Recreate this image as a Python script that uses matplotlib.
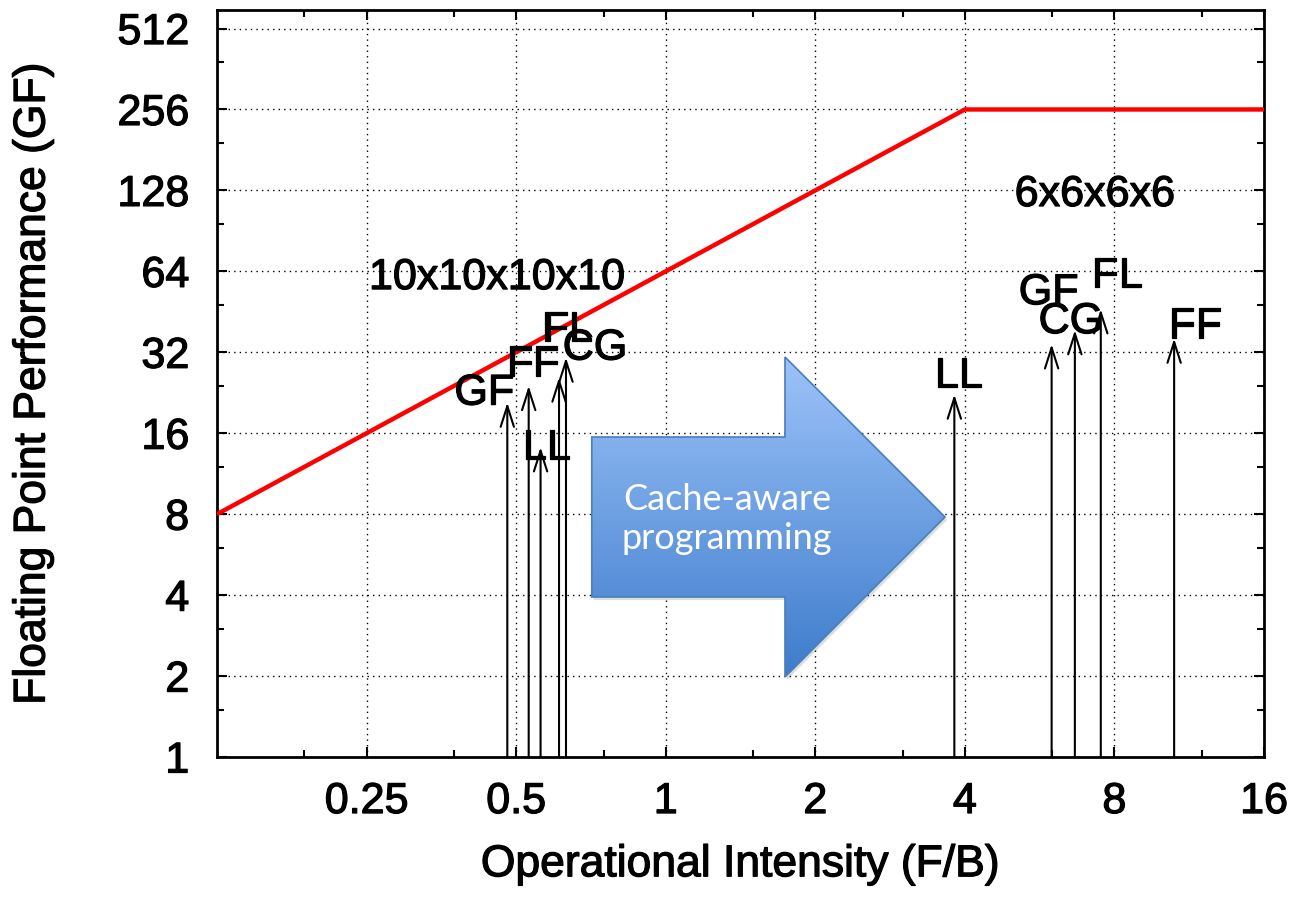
import numpy as np
import matplotlib
matplotlib.use('Agg')
import matplotlib.pyplot as plt
from matplotlib.patches import Polygon
from matplotlib.ticker import FixedLocator, NullFormatter
import matplotlib.transforms as mtransforms
import matplotlib.patheffects as pe

plt.rcParams['font.family'] = ['Liberation Sans', 'DejaVu Sans']

# roofline: techo de 256 GF, ancho de banda 64 GB/s
roof_x = [0.125, 4, 16]
roof_y = [8, 256, 256]

# kernels 10x10x10x10 (intensidad, rendimiento)
small_names = ['GF', 'FF', 'LL', 'FL', 'CG']
small_oi = [0.48, 0.53, 0.56, 0.61, 0.63]
small_gf = [20.8, 24.0, 14.2, 25.8, 30.6]

# kernels 6x6x6x6
big_names = ['LL', 'GF', 'CG', 'FL', 'FF']
big_oi = [3.81, 5.98, 6.66, 7.51, 10.55]
big_gf = [22.3, 34.3, 38.7, 46.3, 36.0]

xticks = [0.25, 0.5, 1, 2, 4, 8, 16]
xtick_labels = ['0.25', '0.5', '1', '2', '4', '8', '16']
yticks = [1, 2, 4, 8, 16, 32, 64, 128, 256, 512]

# desplazamientos de las etiquetas (pixeles) respecto a la punta de la flecha
small_off = [(-23, -2), (4, 10), (6, -12), (8, 36), (29, -2)]
big_off = [(4, 7), (-3, 40), (-4, -3), (16, 22), (21, 1)]

# trazo extra para que el texto se vea un poco mas grueso
grueso = [pe.withStroke(linewidth=0.9, foreground='black')]

fig = plt.figure(figsize=(13.07, 9.01), dpi=100)
ax = fig.add_axes([0.166, 0.1598, 0.8011, 0.8291])
ax.set_xscale('log', base=2)
ax.set_yscale('log', base=2)

# flecha azul "Cache-aware programming"
verts = [(0.358, 0.4284), (0.5425, 0.4284), (0.5425, 0.5355), (0.6953, 0.3213),
         (0.5425, 0.1071), (0.5425, 0.2142), (0.358, 0.2142)]
shadow = Polygon(verts, closed=True, facecolor='#555555', edgecolor='none', alpha=0.2,
                 transform=ax.transAxes + mtransforms.ScaledTranslation(2/100, -3/100, fig.dpi_scale_trans),
                 zorder=1)
ax.add_patch(shadow)
poly = Polygon(verts, closed=True, facecolor='none', edgecolor='#4a7ebb', lw=1.2,
               transform=ax.transAxes, zorder=3)
ax.add_patch(poly)
grad = np.linspace(0, 1, 256).reshape(-1, 1)
cmap = matplotlib.colors.LinearSegmentedColormap.from_list('az', ['#3d7ccb', '#9dc3f9'])
im = ax.imshow(grad, cmap=cmap, origin='lower', aspect='auto',
               extent=[0.358, 0.6953, 0.1071, 0.5355], transform=ax.transAxes, zorder=2)
im.set_clip_path(poly)
ax.text(0.487, 0.3186, 'Cache-aware\nprogramming', transform=ax.transAxes,
        ha='center', va='center', color='white', fontsize=26, family=['Lato', 'DejaVu Sans'],
        linespacing=1.2, zorder=4)

# roofline
ax.plot(roof_x, roof_y, color='#ff0000', lw=3.2, zorder=5, solid_capstyle='butt')

arrow_kw = dict(arrowstyle='->,head_length=0.75,head_width=0.24', lw=1.5, color='black',
                mutation_scale=20, shrinkA=0, shrinkB=0)
for names, oi, gf, offs in [(small_names, small_oi, small_gf, small_off),
                            (big_names, big_oi, big_gf, big_off)]:
    for n, x, y, (dx, dy) in zip(names, oi, gf, offs):
        ax.annotate('', xy=(x, y), xytext=(x, 1), arrowprops=arrow_kw, zorder=6)
        ax.annotate(n, xy=(x, y), xytext=(dx, dy), textcoords='offset pixels',
                    ha='center', va='baseline', fontsize=31, zorder=7, path_effects=grueso)

ax.text(0.457, 55, '10x10x10x10', ha='center', va='baseline', fontsize=31, path_effects=grueso)
ax.text(7.3, 112, '6x6x6x6', ha='center', va='baseline', fontsize=31, path_effects=grueso)

ax.set_xlim(0.125, 16)
ax.set_ylim(1, 600)
ax.set_xticks(xticks)
ax.set_xticklabels(xtick_labels)
ax.set_yticks(yticks)
ax.set_yticklabels([str(v) for v in yticks])
ax.xaxis.set_minor_locator(FixedLocator([1.5 * v for v in [0.125] + xticks[:-1]]))
ax.yaxis.set_minor_locator(FixedLocator([1.5 * v for v in yticks]))
ax.xaxis.set_minor_formatter(NullFormatter())
ax.yaxis.set_minor_formatter(NullFormatter())
ax.tick_params(which='both', direction='in', top=True, right=True, width=1.5, labelsize=31)
ax.tick_params(which='major', length=7)
ax.tick_params(which='minor', length=5)
ax.tick_params(axis='x', pad=18)
ax.tick_params(axis='y', pad=20)
ax.grid(True, which='major', color='black', linestyle=(0, (1, 3)), lw=1)
for s in ax.spines.values():
    s.set_linewidth(2)
for t in ax.get_xticklabels() + ax.get_yticklabels():
    t.set_path_effects(grueso)

ax.set_xlabel('Operational Intensity (F/B)', fontsize=32, labelpad=16, path_effects=grueso)
ax.set_ylabel('Floating Point Performance (GF)', fontsize=32, labelpad=46, path_effects=grueso)

plt.savefig('out.png', dpi=100)
